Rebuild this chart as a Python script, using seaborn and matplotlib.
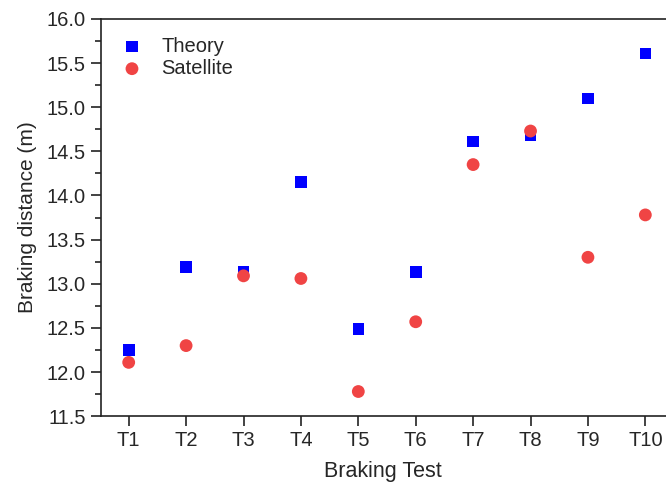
import pandas as pd
import numpy as np
import matplotlib
matplotlib.use('Agg')
import matplotlib.pyplot as plt
import seaborn as sns
from matplotlib.ticker import MultipleLocator

tests = ['T1', 'T2', 'T3', 'T4', 'T5', 'T6', 'T7', 'T8', 'T9', 'T10']
theory = [12.25, 13.19, 13.13, 14.15, 12.49, 13.13, 14.61, 14.68, 15.10, 15.61]
satellite = [12.11, 12.30, 13.09, 13.06, 11.78, 12.57, 14.35, 14.73, 13.30, 13.78]

df_t = pd.DataFrame({'test': tests, 'dist': theory})
df_s = pd.DataFrame({'test': tests, 'dist': satellite})

sns.set_style('ticks')
plt.rcParams['font.family'] = ['Liberation Sans', 'DejaVu Sans']

fig = plt.figure(figsize=(6.66, 4.84), dpi=100)
ax = fig.add_axes([0.151, 0.140, 0.849, 0.821])

sns.scatterplot(data=df_t, x='test', y='dist', marker='s', s=70, color='#0000FF',
                edgecolor='none', label='Theory', ax=ax, zorder=3)
sns.scatterplot(data=df_s, x='test', y='dist', marker='o', s=85, color='#F04444',
                edgecolor='none', label='Satellite', ax=ax, zorder=4)

ax.set_xlim(-0.49, 9.36)
ax.set_ylim(11.5, 16.0)
ax.yaxis.set_major_locator(MultipleLocator(0.5))
ax.yaxis.set_minor_locator(MultipleLocator(0.25))
ax.yaxis.set_major_formatter(matplotlib.ticker.FormatStrFormatter('%.1f'))

ax.tick_params(axis='both', which='major', direction='out', length=7, width=1.2,
               labelsize=14.5, color='#222222')
ax.tick_params(axis='y', which='minor', direction='out', length=4, width=1.2, color='#222222')
for sp in ['left', 'bottom', 'top']:
    ax.spines[sp].set_linewidth(1.2)
    ax.spines[sp].set_color('#222222')
ax.spines['right'].set_visible(False)

ax.set_xlabel('Braking Test', fontsize=15.5, labelpad=8)
ax.set_ylabel('Braking distance (m)', fontsize=15, labelpad=7)

ax.legend(loc='upper left', frameon=False, fontsize=14.5, handletextpad=0.45,
          borderaxespad=0.3, labelspacing=0.15, bbox_to_anchor=(-0.005, 0.99),
          markerscale=1.0)

plt.savefig('out.png', dpi=100)
